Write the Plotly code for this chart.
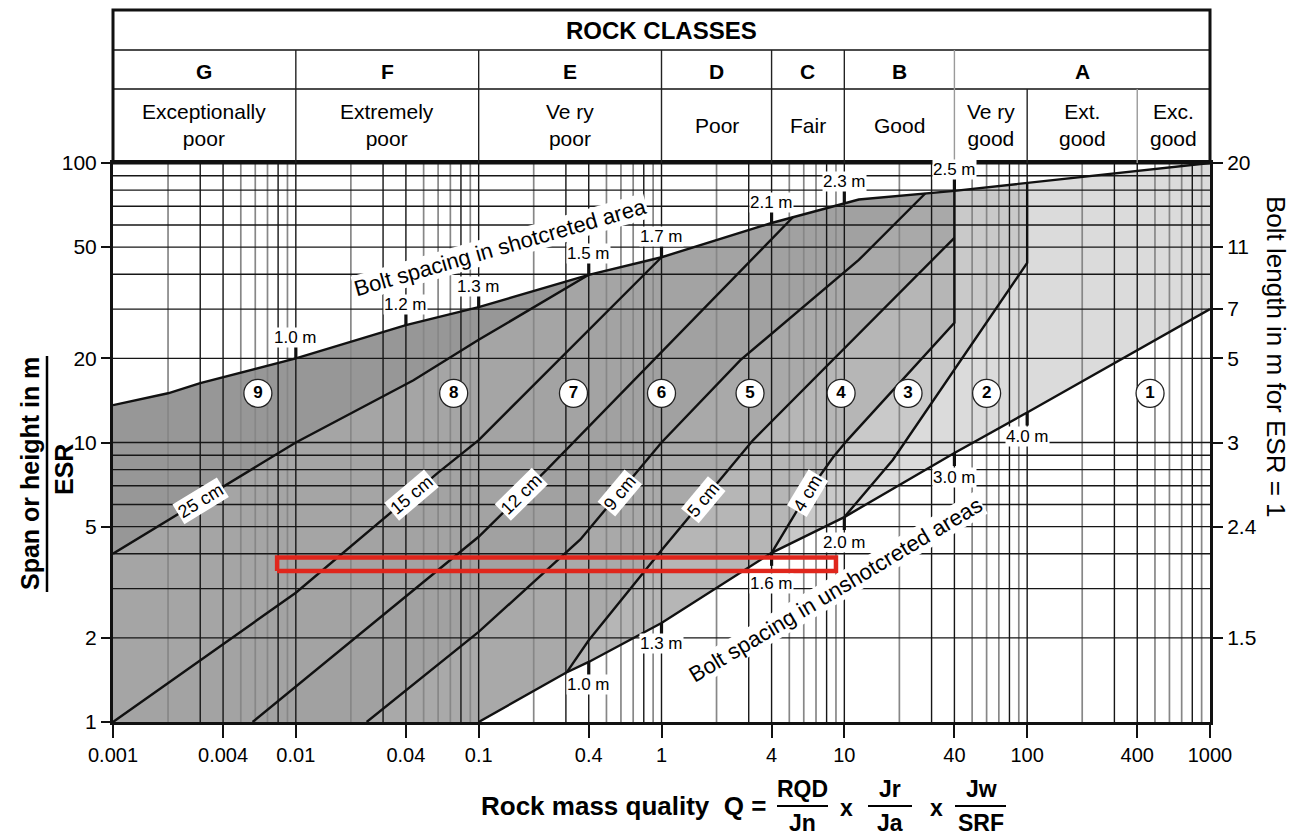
import numpy as np
import plotly.graph_objects as go

# ------------------------------------------------------------------ data
x_tick_vals = [0.001, 0.004, 0.01, 0.04, 0.1, 0.4, 1, 4, 10, 40, 100, 400, 1000]
x_tick_text = ["0.001", "0.004", "0.01", "0.04", "0.1", "0.4", "1", "4", "10", "40", "100", "400", "1000"]
span_tick_vals = [1, 2, 5, 10, 20, 50, 100]
span_tick_text = ["1", "2", "5", "10", "20", "50", "100"]
bolt_length_at_span = [2, 5, 10, 20, 30, 50, 100]
bolt_length_text = ["1.5", "2.4", "3", "5", "7", "11", "20"]

grid_decades = [0.001, 0.01, 0.1, 1, 10, 100]
grid_dark_multipliers = [1, 3, 4, 8]
grid_light_multipliers = [2, 5, 6, 7, 9]
grid_span_values = [2, 3, 4, 5, 6, 7, 8, 9, 10, 20, 30, 40, 50, 60, 70, 80, 90]

class_bounds = [0.001, 0.01, 0.1, 1, 4, 10, 40, 1000]
class_letters = ["G", "F", "E", "D", "C", "B", "A"]
quality_bounds = [0.001, 0.01, 0.1, 1, 4, 10, 40, 100, 400, 1000]
quality_names = ["Exceptionally<br>poor", "Extremely<br>poor", "Ve ry<br>poor", "Poor", "Fair",
                 "Good", "Ve ry<br>good", "Ext.<br>good", "Exc.<br>good"]

# upper edge: bolt spacing in shotcreted area
shot_q = [0.001, 0.002, 0.003, 0.01, 0.04, 0.1, 0.4, 1, 4, 10, 12, 40, 1000]
shot_s = [13.6, 15.0, 16.3, 20.0, 26.3, 30.5, 39.8, 46.0, 61.0, 72.0, 74.0, 79.5, 100]
# lower edge: bolt spacing in unshotcreted areas
unshot_q = [0.1, 0.3, 0.4, 1, 4, 10, 40, 100, 1000]
unshot_s = [1.0, 1.5, 1.64, 2.26, 4.03, 5.41, 9.17, 12.8, 30.0]

# shotcrete thickness / support category boundaries
t25_q = [0.001, 0.01, 0.044, 0.07, 0.1, 0.4]
t25_s = [4.0, 10.0, 16.7, 20.2, 23.3, 39.8]
t15_q = [0.001, 0.01, 0.06, 0.1, 1]
t15_s = [1.0, 2.9, 7.8, 10.2, 46.0]
t12_q = [0.0058, 0.1, 0.236, 5.25]
t12_s = [1.0, 4.6, 8.0, 64.0]
t9_q = [0.0244, 0.1, 0.36, 1, 2.7, 12, 27.7]
t9_s = [1.0, 2.1, 4.5, 10.0, 19.7, 45.0, 77.8]
t5_q = [0.303, 0.4, 1, 3.17, 40]
t5_s = [1.51, 1.96, 4.12, 10.2, 54.0]
t4_q = [4, 6.3, 8.7, 10.4, 40, 40]
t4_s = [4.03, 6.6, 8.87, 10.2, 26.8, 79.5]
c32_q = [10, 18.4, 100, 100]
c32_s = [5.41, 8.66, 43.9, 85.0]

region_numbers = ["9", "8", "7", "6", "5", "4", "3", "2", "1"]
region_label_q = [0.0062, 0.073, 0.33, 1.0, 3.05, 9.6, 22.3, 60, 470]
region_label_s = [15, 15, 15, 15, 15, 15, 15, 15, 15]
region_colors = ["#979797", "#a5a5a5", "#a3a3a3", "#a1a1a1", "#a9a9a9", "#b6b6b6", "#c9c9c9", "#dbdbdb", "#ffffff"]

shot_mark_q = [0.01, 0.04, 0.1, 0.4, 1, 4, 10, 40]
shot_mark_text = ["1.0 m", "1.2 m", "1.3 m", "1.5 m", "1.7 m", "2.1 m", "2.3 m", "2.5 m"]
unshot_mark_q = [0.4, 1, 4, 10, 40, 100]
unshot_mark_text = ["1.0 m", "1.3 m", "1.6 m", "2.0 m", "3.0 m", "4.0 m"]
unshot_label_drop = [23, 20, 31, 25, 24, 24]

thick_text = ["25 cm", "15 cm", "12 cm", "9 cm", "5 cm", "4 cm"]
thick_q = [0.003, 0.043, 0.172, 0.59, 1.69, 6.3]

highlight_q = [0.0079, 9.0]
highlight_s = [3.47, 3.88]

# ------------------------------------------------------------------ layout geometry
# (the page body adds an 8 px offset, so the figure is 8 px smaller than the window)
OFF = 8
REF_L, REF_R, REF_T, REF_B = 113, 1210, 163, 722
W, H = 1298 - OFF, 839 - OFF
ML, MT = REF_L - OFF, REF_T - OFF
PW, PH = REF_R - REF_L, REF_B - REF_T
MR, MB = W - ML - PW, H - MT - PH
PX_DEC_X = PW / 6.0
PX_DEC_Y = PH / 2.0
FONT = "Liberation Sans, Arial, Helvetica, sans-serif"


def px_x(px):
    return (px - REF_L) / PW


def px_y(py):
    return (REF_B - py) / PH


def loglog(q, xs, ys):
    return float(10 ** np.interp(np.log10(q), np.log10(xs), np.log10(ys)))


def on_shot(q):
    return loglog(q, shot_q, shot_s)


def on_unshot(q):
    return loglog(q, unshot_q, unshot_s)


def snap(qs, ss, start=None, end=None):
    ss = list(ss)
    if start == "unshot":
        ss[0] = on_unshot(qs[0])
    if end == "shot":
        ss[-1] = on_shot(qs[-1])
    return list(qs), ss


L25 = snap(t25_q, t25_s, end="shot")
L15 = snap(t15_q, t15_s, end="shot")
L12 = snap(t12_q, t12_s, end="shot")
L9 = snap(t9_q, t9_s, end="shot")
L5 = snap(t5_q, t5_s, start="unshot")
L4 = snap(t4_q, t4_s, start="unshot", end="shot")
L32 = snap(c32_q, c32_s, start="unshot", end="shot")


def shot_after(q0):
    pts = [(q, s) for q, s in zip(shot_q, shot_s) if q > q0 + 1e-12]
    return [p[0] for p in pts], [p[1] for p in pts]


fig = go.Figure()


def add_fill(xs, ys, color):
    fig.add_trace(go.Scatter(x=xs, y=ys, mode="lines", fill="toself", fillcolor=color,
                             line=dict(width=0, color=color), hoverinfo="skip", showlegend=False))


qmax = x_tick_vals[-1]
qmin = x_tick_vals[0]
add_fill(shot_q + [qmax, qmin], shot_s + [1, 1], region_colors[0])
for (qs, ss), col in [(L25, region_colors[1]), (L15, region_colors[2]),
                      (L12, region_colors[3]), (L9, region_colors[4])]:
    aq, as_ = shot_after(qs[-1])
    xs = qs + aq + [qmax]
    ys = ss + as_ + [1]
    if ss[0] > 1:
        xs = xs + [qs[0]]
        ys = ys + [1]
    add_fill(xs, ys, col)
aq, as_ = shot_after(40)
add_fill([L5[0][0]] + L5[0] + [40] + aq + [qmax], [1] + L5[1] + [on_shot(40)] + as_ + [1], region_colors[5])
aq, as_ = shot_after(L4[0][-1])
add_fill([L4[0][0]] + L4[0] + aq + [qmax], [1] + L4[1] + as_ + [1], region_colors[6])
aq, as_ = shot_after(L32[0][-1])
add_fill([L32[0][0]] + L32[0] + aq + [qmax], [1] + L32[1] + as_ + [1], region_colors[7])
add_fill(unshot_q + [qmax], unshot_s + [1], region_colors[8])


def vlines(mults):
    xs, ys = [], []
    for d in grid_decades:
        for m in mults:
            q = m * d
            if qmin < q < qmax:
                xs += [q, q, None]
                ys += [1, 100, None]
    return xs, ys


gx, gy = vlines(grid_light_multipliers)
fig.add_trace(go.Scatter(x=gx, y=gy, mode="lines", line=dict(color="#878787", width=1.7),
                         hoverinfo="skip", showlegend=False))
gx, gy = vlines(grid_dark_multipliers)
fig.add_trace(go.Scatter(x=gx, y=gy, mode="lines", line=dict(color="#161616", width=1.4),
                         hoverinfo="skip", showlegend=False))
hx, hy = [], []
for s in grid_span_values:
    hx += [qmin, qmax, None]
    hy += [s, s, None]
fig.add_trace(go.Scatter(x=hx, y=hy, mode="lines", line=dict(color="#161616", width=1.4),
                         hoverinfo="skip", showlegend=False))

for qs, ss in [(shot_q, shot_s), (unshot_q, unshot_s), L25, L15, L12, L9, L5, L4, L32]:
    fig.add_trace(go.Scatter(x=qs, y=ss, mode="lines", line=dict(color="#111111", width=2.4),
                             hoverinfo="skip", showlegend=False))

tick_up = 10 ** (12 / PX_DEC_Y)
tick_dn = 10 ** (13 / PX_DEC_Y)
mx, my = [], []
for q in shot_mark_q:
    s0 = on_shot(q)
    mx += [q, q, None]
    my += [s0, s0 * tick_up, None]
for q in unshot_mark_q:
    s0 = on_unshot(q)
    mx += [q, q, None]
    my += [s0, s0 / tick_dn, None]
fig.add_trace(go.Scatter(x=mx, y=my, mode="lines", line=dict(color="#111111", width=3.2),
                         hoverinfo="skip", showlegend=False))

fig.add_trace(go.Scatter(
    x=[highlight_q[0], highlight_q[1], highlight_q[1], highlight_q[0], highlight_q[0]],
    y=[highlight_s[0], highlight_s[0], highlight_s[1], highlight_s[1], highlight_s[0]],
    mode="lines", line=dict(color="#e0261c", width=4.5), hoverinfo="skip", showlegend=False))

fig.add_trace(go.Scatter(
    x=region_label_q, y=region_label_s, mode="markers+text",
    text=["<b>%s</b>" % n for n in region_numbers], textposition="middle center",
    textfont=dict(size=17, color="black", family=FONT),
    marker=dict(size=28, color="white", line=dict(color="#222222", width=1.3)),
    hoverinfo="skip", showlegend=False))

fig.add_trace(go.Scatter(x=[1], y=[10], yaxis="y2", mode="markers", marker=dict(opacity=0),
                         hoverinfo="skip", showlegend=False))

ann = []


def A(**kw):
    d = dict(showarrow=False, xanchor="center", yanchor="middle")
    d.update(kw)
    ann.append(d)


for q, t in zip(shot_mark_q, shot_mark_text):
    A(x=np.log10(q), y=np.log10(on_shot(q)), xref="x", yref="y", text=t, yshift=21,
      bgcolor="white", borderpad=0, font=dict(size=17, color="black", family=FONT))
for q, t, dy in zip(unshot_mark_q, unshot_mark_text, unshot_label_drop):
    A(x=np.log10(q), y=np.log10(on_unshot(q)), xref="x", yref="y", text=t, yshift=-dy,
      bgcolor="white", borderpad=0, font=dict(size=17, color="black", family=FONT))


def line_angle(qs, ss, q):
    lq = np.log10(qs)
    ls = np.log10(ss)
    i = int(np.clip(np.searchsorted(lq, np.log10(q)) - 1, 0, len(lq) - 2))
    dx = (lq[i + 1] - lq[i]) * PX_DEC_X
    dy = (ls[i + 1] - ls[i]) * PX_DEC_Y
    return float(-np.degrees(np.arctan2(dy, dx)))


for t, q, L in zip(thick_text, thick_q, [L25, L15, L12, L9, L5, L4]):
    s = loglog(q, L[0], L[1])
    A(x=np.log10(q), y=np.log10(s), xref="x", yref="y", text=t,
      textangle=line_angle(L[0], L[1], q), bgcolor="white", borderpad=1,
      font=dict(size=18, color="black", family=FONT))

A(x=np.log10(0.131), y=np.log10(49.7), xref="x", yref="y", text="Bolt spacing in shotcreted area",
  textangle=-16, bgcolor="white", borderpad=0, font=dict(size=22, color="black", family=FONT))
A(x=np.log10(9.02), y=np.log10(2.97), xref="x", yref="y", text="Bolt spacing in unshotcreted areas",
  textangle=-31, bgcolor="white", borderpad=0, font=dict(size=22, color="black", family=FONT))

Y_TOP, Y_ROW1, Y_ROW2 = px_y(10), px_y(50), px_y(89)
A(x=0.5, y=px_y(30), xref="paper", yref="paper", text="<b>ROCK CLASSES</b>",
  font=dict(size=24, color="black", family=FONT))
for i, L in enumerate(class_letters):
    c = np.sqrt(class_bounds[i] * class_bounds[i + 1])
    A(x=np.log10(c), y=px_y(71), xref="x", yref="paper", text="<b>%s</b>" % L,
      font=dict(size=21, color="black", family=FONT))
for i, t in enumerate(quality_names):
    c = np.sqrt(quality_bounds[i] * quality_bounds[i + 1])
    A(x=np.log10(c), y=px_y(125), xref="x", yref="paper", text=t,
      font=dict(size=21, color="black", family=FONT))

A(x=px_x(30), y=px_y(474), xref="paper", yref="paper", text="<b>Span or height in m</b>",
  textangle=-90, font=dict(size=25, color="black", family=FONT))
A(x=px_x(64), y=px_y(470), xref="paper", yref="paper", text="<b>ESR</b>",
  textangle=-90, font=dict(size=25, color="black", family=FONT))
A(x=px_x(1276), y=px_y(357), xref="paper", yref="paper", text="Bolt length in m for ESR = 1",
  textangle=90, font=dict(size=26, color="black", family=FONT))

A(x=px_x(623), y=px_y(806), xref="paper", yref="paper", text="<b>Rock mass quality  Q =</b>",
  font=dict(size=26, color="black", family=FONT))
ft = dict(size=23, color="black", family=FONT)
for cx, num, den in [(802, "RQD", "Jn"), (890, "Jr", "Ja"), (981, "Jw", "SRF")]:
    A(x=px_x(cx), y=px_y(789), xref="paper", yref="paper", text="<b>%s</b>" % num, font=ft)
    A(x=px_x(cx), y=px_y(823), xref="paper", yref="paper", text="<b>%s</b>" % den, font=ft)
for cx in [846, 936]:
    A(x=px_x(cx), y=px_y(808), xref="paper", yref="paper", text="<b>x</b>", font=ft)

shapes = []
shapes.append(dict(type="rect", xref="paper", yref="paper", x0=0, x1=1, y0=1, y1=Y_TOP,
                   line=dict(color="#111111", width=3)))
for yy in [Y_ROW1, Y_ROW2]:
    shapes.append(dict(type="line", xref="paper", yref="paper", x0=0, x1=1, y0=yy, y1=yy,
                       line=dict(color="#111111", width=1.5)))
for b in class_bounds[1:-1]:
    col = "#9a9a9a" if b == 40 else "#222222"
    shapes.append(dict(type="line", xref="x", yref="paper", x0=b, x1=b, y0=1, y1=Y_ROW1,
                       line=dict(color=col, width=1.4)))
for b in quality_bounds[1:-1]:
    if b in class_bounds:
        continue
    col = "#9a9a9a" if b == 400 else "#222222"
    shapes.append(dict(type="line", xref="x", yref="paper", x0=b, x1=b, y0=1, y1=Y_ROW2,
                       line=dict(color=col, width=1.4)))
shapes.append(dict(type="line", xref="paper", yref="paper", x0=px_x(47), x1=px_x(47),
                   y0=px_y(592), y1=px_y(356), line=dict(color="black", width=2.5)))
for a, b in [(777, 828), (868, 912), (955, 1006)]:
    shapes.append(dict(type="line", xref="paper", yref="paper", x0=px_x(a), x1=px_x(b),
                       y0=px_y(806), y1=px_y(806), line=dict(color="black", width=2.2)))

axis_common = dict(type="log", showgrid=False, zeroline=False, ticks="outside",
                   tickcolor="#111111", tickwidth=1.5)
fig.update_layout(
    width=W, height=H, margin=dict(l=ML, r=MR, t=MT, b=MB, pad=0, autoexpand=False),
    plot_bgcolor="white", paper_bgcolor="white", showlegend=False,
    font=dict(family=FONT, color="black"),
    xaxis=dict(axis_common, range=[-3, 3], tickvals=x_tick_vals, ticktext=x_tick_text, ticklen=13,
               showline=True, linewidth=3, linecolor="#111111", mirror=True,
               tickfont=dict(size=20, color="black", family=FONT)),
    yaxis=dict(axis_common, range=[0, 2], tickvals=span_tick_vals, ticktext=span_tick_text, ticklen=9,
               showline=True, linewidth=3, linecolor="#111111", mirror=True,
               tickfont=dict(size=21, color="black", family=FONT)),
    yaxis2=dict(axis_common, range=[0, 2], overlaying="y", side="right", anchor="x",
                tickvals=bolt_length_at_span, ticktext=bolt_length_text, ticklen=12, showline=False,
                tickfont=dict(size=21, color="black", family=FONT)),
    annotations=ann, shapes=shapes,
)

fig.write_html("out.html")
